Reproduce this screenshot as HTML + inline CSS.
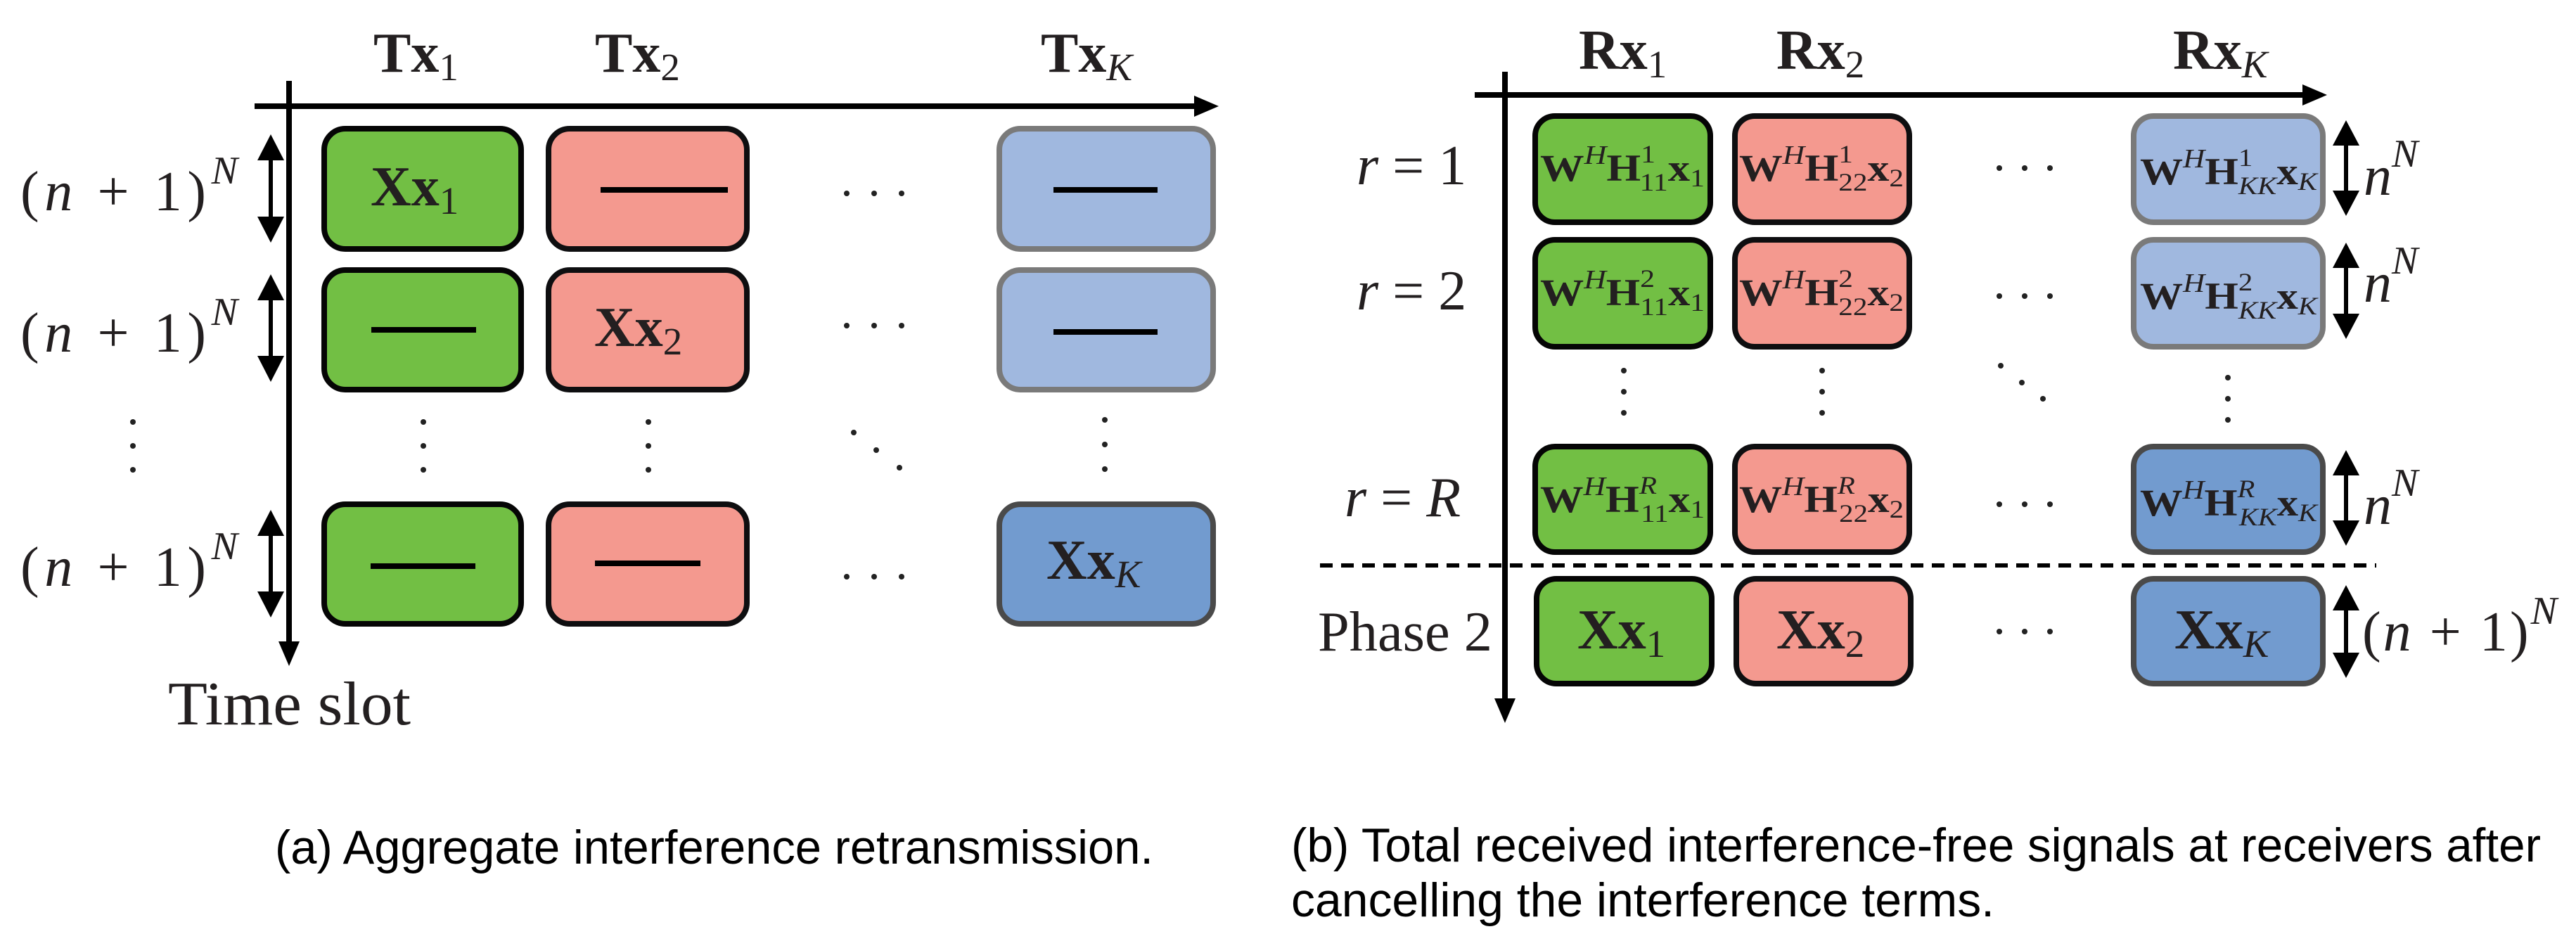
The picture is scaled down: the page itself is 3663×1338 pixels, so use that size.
<!DOCTYPE html>
<html><head><meta charset="utf-8"><style>html,body{margin:0;padding:0;background:#fff}svg{display:block}</style></head>
<body>
<svg width="3663" height="1338" viewBox="0 0 3663 1338" xmlns="http://www.w3.org/2000/svg">
<rect width="3663" height="1338" fill="#fff"/>
<g font-family="Liberation Serif, serif" fill="#231f20">
<!-- LEFT PANEL -->
<line x1="362" y1="151" x2="1705" y2="151" stroke="#000" stroke-width="8"/>
<polygon points="1733,151 1698,136 1698,166" fill="#000"/>
<line x1="411" y1="115" x2="411" y2="918" stroke="#000" stroke-width="8"/>
<polygon points="411,947 396,912 426,912" fill="#000"/>
<g font-weight="bold" font-size="80">
<text x="531" y="102">Tx<tspan font-weight="normal" font-size="55" dy="12">1</tspan></text>
<text x="846" y="102">Tx<tspan font-weight="normal" font-size="55" dy="12">2</tspan></text>
<text x="1480" y="102">Tx<tspan font-weight="normal" font-style="italic" font-size="55" dy="12">K</tspan></text>
</g>
<g stroke-width="8">
<rect x="461" y="183" width="280" height="171" rx="30" fill="#72bf44" stroke="#050505"/>
<rect x="780" y="183" width="282" height="171" rx="30" fill="#f4998f" stroke="#0e0e10"/>
<rect x="1421" y="183" width="304" height="171" rx="30" fill="#a0b8df" stroke="#7a7a7a"/>
<rect x="461" y="384" width="280" height="170" rx="30" fill="#72bf44" stroke="#050505"/>
<rect x="780" y="384" width="282" height="170" rx="30" fill="#f4998f" stroke="#0e0e10"/>
<rect x="1421" y="384" width="304" height="170" rx="30" fill="#a0b8df" stroke="#7a7a7a"/>
<rect x="461" y="717" width="280" height="170" rx="30" fill="#72bf44" stroke="#050505"/>
<rect x="780" y="717" width="282" height="170" rx="30" fill="#f4998f" stroke="#0e0e10"/>
<rect x="1421" y="717" width="304" height="170" rx="30" fill="#729bcf" stroke="#4a4a4a"/>
</g>
<g fill="#000">
<rect x="854" y="266" width="181" height="8"/>
<rect x="1498" y="266" width="148" height="8"/>
<rect x="528" y="465" width="149" height="8"/>
<rect x="1498" y="468" width="148" height="8"/>
<rect x="527" y="801" width="149" height="8"/>
<rect x="846" y="797" width="150" height="8"/>
</g>
<g font-weight="bold" font-size="80">
<text x="527" y="292">Xx<tspan font-weight="normal" font-size="55" dy="12">1</tspan></text>
<text x="845" y="492">Xx<tspan font-weight="normal" font-size="55" dy="12">2</tspan></text>
<text x="1488" y="823">Xx<tspan font-weight="normal" font-style="italic" font-size="55" dy="12">K</tspan></text>
</g>
<g font-size="80">
<text x="29" y="299" textLength="309" lengthAdjust="spacing">(<tspan font-style="italic">n</tspan> + 1)<tspan font-style="italic" font-size="56" dy="-38">N</tspan></text>
<text x="29" y="500" textLength="309" lengthAdjust="spacing">(<tspan font-style="italic">n</tspan> + 1)<tspan font-style="italic" font-size="56" dy="-38">N</tspan></text>
<text x="29" y="833" textLength="309" lengthAdjust="spacing">(<tspan font-style="italic">n</tspan> + 1)<tspan font-style="italic" font-size="56" dy="-38">N</tspan></text>
<text x="239" y="1030" font-size="88" textLength="345" lengthAdjust="spacingAndGlyphs">Time slot</text>
</g>
<g fill="#000">
<rect x="382" y="220" width="6" height="100"/><polygon points="385,191 366,228 404,228"/><polygon points="385,345 366,308 404,308"/>
<rect x="382" y="420" width="6" height="100"/><polygon points="385,390 366,427 404,427"/><polygon points="385,543 366,506 404,506"/>
<rect x="382" y="755" width="6" height="100"/><polygon points="385,725 366,762 404,762"/><polygon points="385,878 366,841 404,841"/>
</g>
<g fill="#222">
<circle cx="1204" cy="275" r="4"/><circle cx="1243" cy="275" r="4"/><circle cx="1282" cy="275" r="4"/>
<circle cx="1204" cy="463" r="4"/><circle cx="1243" cy="463" r="4"/><circle cx="1282" cy="463" r="4"/>
<circle cx="1204" cy="820" r="4"/><circle cx="1243" cy="820" r="4"/><circle cx="1282" cy="820" r="4"/>
<circle cx="189" cy="600" r="4"/><circle cx="189" cy="634" r="4"/><circle cx="189" cy="668" r="4"/>
<circle cx="602" cy="600" r="4"/><circle cx="602" cy="634" r="4"/><circle cx="602" cy="668" r="4"/>
<circle cx="922" cy="600" r="4"/><circle cx="922" cy="634" r="4"/><circle cx="922" cy="668" r="4"/>
<circle cx="1571" cy="597" r="4"/><circle cx="1571" cy="632" r="4"/><circle cx="1571" cy="667" r="4"/>
<circle cx="1214" cy="615" r="4"/><circle cx="1246" cy="640" r="4"/><circle cx="1279" cy="665" r="4"/>
</g>

<!-- RIGHT PANEL -->
<line x1="2097" y1="135" x2="3280" y2="135" stroke="#000" stroke-width="8"/>
<polygon points="3309,135 3274,120 3274,150" fill="#000"/>
<line x1="2140" y1="102" x2="2140" y2="1000" stroke="#000" stroke-width="8"/>
<polygon points="2140,1028 2125,993 2155,993" fill="#000"/>
<line x1="1877" y1="804" x2="3379" y2="804" stroke="#000" stroke-width="6" stroke-dasharray="18,12"/>
<g font-weight="bold" font-size="80">
<text x="2245" y="98">Rx<tspan font-weight="normal" font-size="55" dy="12">1</tspan></text>
<text x="2526" y="98">Rx<tspan font-weight="normal" font-size="55" dy="12">2</tspan></text>
<text x="3090" y="98">Rx<tspan font-weight="normal" font-style="italic" font-size="55" dy="12">K</tspan></text>
</g>
<g stroke-width="8">
<rect x="2183" y="165" width="249" height="151" rx="28" fill="#72bf44" stroke="#050505"/>
<rect x="2467" y="165" width="248" height="151" rx="28" fill="#f4998f" stroke="#0e0e10"/>
<rect x="3034" y="165" width="269" height="151" rx="28" fill="#a0b8df" stroke="#7a7a7a"/>
<rect x="2183" y="341" width="249" height="152" rx="28" fill="#72bf44" stroke="#050505"/>
<rect x="2467" y="341" width="248" height="152" rx="28" fill="#f4998f" stroke="#0e0e10"/>
<rect x="3034" y="341" width="269" height="152" rx="28" fill="#a0b8df" stroke="#7a7a7a"/>
<rect x="2183" y="635" width="249" height="150" rx="28" fill="#72bf44" stroke="#050505"/>
<rect x="2467" y="635" width="248" height="150" rx="28" fill="#f4998f" stroke="#0e0e10"/>
<rect x="3034" y="635" width="269" height="150" rx="28" fill="#729bcf" stroke="#4a4a4a"/>
<rect x="2185" y="823" width="249" height="149" rx="28" fill="#72bf44" stroke="#050505"/>
<rect x="2469" y="823" width="248" height="149" rx="28" fill="#f4998f" stroke="#0e0e10"/>
<rect x="3034" y="823" width="269" height="149" rx="28" fill="#729bcf" stroke="#4a4a4a"/>
</g>
<g font-size="54" font-weight="bold">
<text x="2190" y="257" textLength="234" lengthAdjust="spacingAndGlyphs">W<tspan font-weight="normal" font-style="italic" font-size="38" dy="-24">H</tspan><tspan dy="24">H</tspan><tspan font-weight="normal" font-size="36" dy="-26">1</tspan><tspan font-weight="normal" font-size="36" dx="-18" dy="40">11</tspan><tspan dy="-14">x</tspan><tspan font-weight="normal" font-size="36" dy="8">1</tspan></text>
<text x="2473" y="257" textLength="234" lengthAdjust="spacingAndGlyphs">W<tspan font-weight="normal" font-style="italic" font-size="38" dy="-24">H</tspan><tspan dy="24">H</tspan><tspan font-weight="normal" font-size="36" dy="-26">1</tspan><tspan font-weight="normal" font-size="36" dx="-18" dy="40">22</tspan><tspan dy="-14">x</tspan><tspan font-weight="normal" font-size="36" dy="8">2</tspan></text>
<text x="3043" y="262" textLength="252" lengthAdjust="spacingAndGlyphs">W<tspan font-weight="normal" font-style="italic" font-size="38" dy="-24">H</tspan><tspan dy="24">H</tspan><tspan font-weight="normal" font-size="36" dy="-26">1</tspan><tspan font-weight="normal" font-style="italic" font-size="36" dx="-18" dy="40">KK</tspan><tspan dy="-14">x</tspan><tspan font-weight="normal" font-style="italic" font-size="36" dy="8">K</tspan></text>

<text x="2190" y="434" textLength="234" lengthAdjust="spacingAndGlyphs">W<tspan font-weight="normal" font-style="italic" font-size="38" dy="-24">H</tspan><tspan dy="24">H</tspan><tspan font-weight="normal" font-size="36" dy="-26">2</tspan><tspan font-weight="normal" font-size="36" dx="-18" dy="40">11</tspan><tspan dy="-14">x</tspan><tspan font-weight="normal" font-size="36" dy="8">1</tspan></text>
<text x="2473" y="434" textLength="234" lengthAdjust="spacingAndGlyphs">W<tspan font-weight="normal" font-style="italic" font-size="38" dy="-24">H</tspan><tspan dy="24">H</tspan><tspan font-weight="normal" font-size="36" dy="-26">2</tspan><tspan font-weight="normal" font-size="36" dx="-18" dy="40">22</tspan><tspan dy="-14">x</tspan><tspan font-weight="normal" font-size="36" dy="8">2</tspan></text>
<text x="3043" y="439" textLength="252" lengthAdjust="spacingAndGlyphs">W<tspan font-weight="normal" font-style="italic" font-size="38" dy="-24">H</tspan><tspan dy="24">H</tspan><tspan font-weight="normal" font-size="36" dy="-26">2</tspan><tspan font-weight="normal" font-style="italic" font-size="36" dx="-18" dy="40">KK</tspan><tspan dy="-14">x</tspan><tspan font-weight="normal" font-style="italic" font-size="36" dy="8">K</tspan></text>

<text x="2190" y="728" textLength="234" lengthAdjust="spacingAndGlyphs">W<tspan font-weight="normal" font-style="italic" font-size="38" dy="-24">H</tspan><tspan dy="24">H</tspan><tspan font-weight="normal" font-style="italic" font-size="36" dy="-26">R</tspan><tspan font-weight="normal" font-size="36" dx="-20" dy="40">11</tspan><tspan dy="-14">x</tspan><tspan font-weight="normal" font-size="36" dy="8">1</tspan></text>
<text x="2473" y="728" textLength="234" lengthAdjust="spacingAndGlyphs">W<tspan font-weight="normal" font-style="italic" font-size="38" dy="-24">H</tspan><tspan dy="24">H</tspan><tspan font-weight="normal" font-style="italic" font-size="36" dy="-26">R</tspan><tspan font-weight="normal" font-size="36" dx="-20" dy="40">22</tspan><tspan dy="-14">x</tspan><tspan font-weight="normal" font-size="36" dy="8">2</tspan></text>
<text x="3043" y="733" textLength="252" lengthAdjust="spacingAndGlyphs">W<tspan font-weight="normal" font-style="italic" font-size="38" dy="-24">H</tspan><tspan dy="24">H</tspan><tspan font-weight="normal" font-style="italic" font-size="36" dy="-26">R</tspan><tspan font-weight="normal" font-style="italic" font-size="36" dx="-20" dy="40">KK</tspan><tspan dy="-14">x</tspan><tspan font-weight="normal" font-style="italic" font-size="36" dy="8">K</tspan></text>
</g>
<g font-weight="bold" font-size="80">
<text x="2243" y="922">Xx<tspan font-weight="normal" font-size="55" dy="12">1</tspan></text>
<text x="2526" y="922">Xx<tspan font-weight="normal" font-size="55" dy="12">2</tspan></text>
<text x="3092" y="922">Xx<tspan font-weight="normal" font-style="italic" font-size="55" dy="12">K</tspan></text>
</g>
<g font-size="80">
<text x="1929" y="262"><tspan font-style="italic">r</tspan> = 1</text>
<text x="1929" y="440"><tspan font-style="italic">r</tspan> = 2</text>
<text x="1912" y="734"><tspan font-style="italic">r</tspan> = <tspan font-style="italic">R</tspan></text>
<text x="1874" y="925" textLength="248" lengthAdjust="spacingAndGlyphs">Phase 2</text>
<text x="3361" y="277" font-style="italic">n<tspan font-size="56" dy="-40">N</tspan></text>
<text x="3361" y="429" font-style="italic">n<tspan font-size="56" dy="-40">N</tspan></text>
<text x="3361" y="745" font-style="italic">n<tspan font-size="56" dy="-40">N</tspan></text>
<text x="3359" y="925" textLength="277" lengthAdjust="spacing">(<tspan font-style="italic">n</tspan> + 1)<tspan font-style="italic" font-size="56" dy="-38">N</tspan></text>
</g>
<g fill="#000">
<rect x="3333" y="200" width="6" height="80"/><polygon points="3336,171 3317,207 3355,207"/><polygon points="3336,307 3317,271 3355,271"/>
<rect x="3333" y="374" width="6" height="80"/><polygon points="3336,345 3317,381 3355,381"/><polygon points="3336,482 3317,446 3355,446"/>
<rect x="3333" y="669" width="6" height="80"/><polygon points="3336,640 3317,676 3355,676"/><polygon points="3336,776 3317,740 3355,740"/>
<rect x="3333" y="861" width="6" height="75"/><polygon points="3336,832 3317,868 3355,868"/><polygon points="3336,964 3317,928 3355,928"/>
</g>
<g fill="#222">
<circle cx="2843" cy="239" r="4"/><circle cx="2879" cy="239" r="4"/><circle cx="2915" cy="239" r="4"/>
<circle cx="2843" cy="421" r="4"/><circle cx="2879" cy="421" r="4"/><circle cx="2915" cy="421" r="4"/>
<circle cx="2843" cy="717" r="4"/><circle cx="2879" cy="717" r="4"/><circle cx="2915" cy="717" r="4"/>
<circle cx="2843" cy="898" r="4"/><circle cx="2879" cy="898" r="4"/><circle cx="2915" cy="898" r="4"/>
<circle cx="2309" cy="527" r="4"/><circle cx="2309" cy="557" r="4"/><circle cx="2309" cy="587" r="4"/>
<circle cx="2591" cy="527" r="4"/><circle cx="2591" cy="557" r="4"/><circle cx="2591" cy="587" r="4"/>
<circle cx="3168" cy="537" r="4"/><circle cx="3168" cy="567" r="4"/><circle cx="3168" cy="597" r="4"/>
<circle cx="2845" cy="520" r="4"/><circle cx="2875" cy="544" r="4"/><circle cx="2905" cy="567" r="4"/>
</g>
</g>
<g font-family="Liberation Sans, sans-serif" font-size="68" fill="#000">
<text x="391" y="1228" textLength="1249" lengthAdjust="spacingAndGlyphs">(a) Aggregate interference retransmission.</text>
<text x="1836" y="1225" textLength="1777" lengthAdjust="spacingAndGlyphs">(b) Total received interference-free signals at receivers after</text>
<text x="1836" y="1303" textLength="1000" lengthAdjust="spacingAndGlyphs">cancelling the interference terms.</text>
</g>
</svg>
</body></html>
